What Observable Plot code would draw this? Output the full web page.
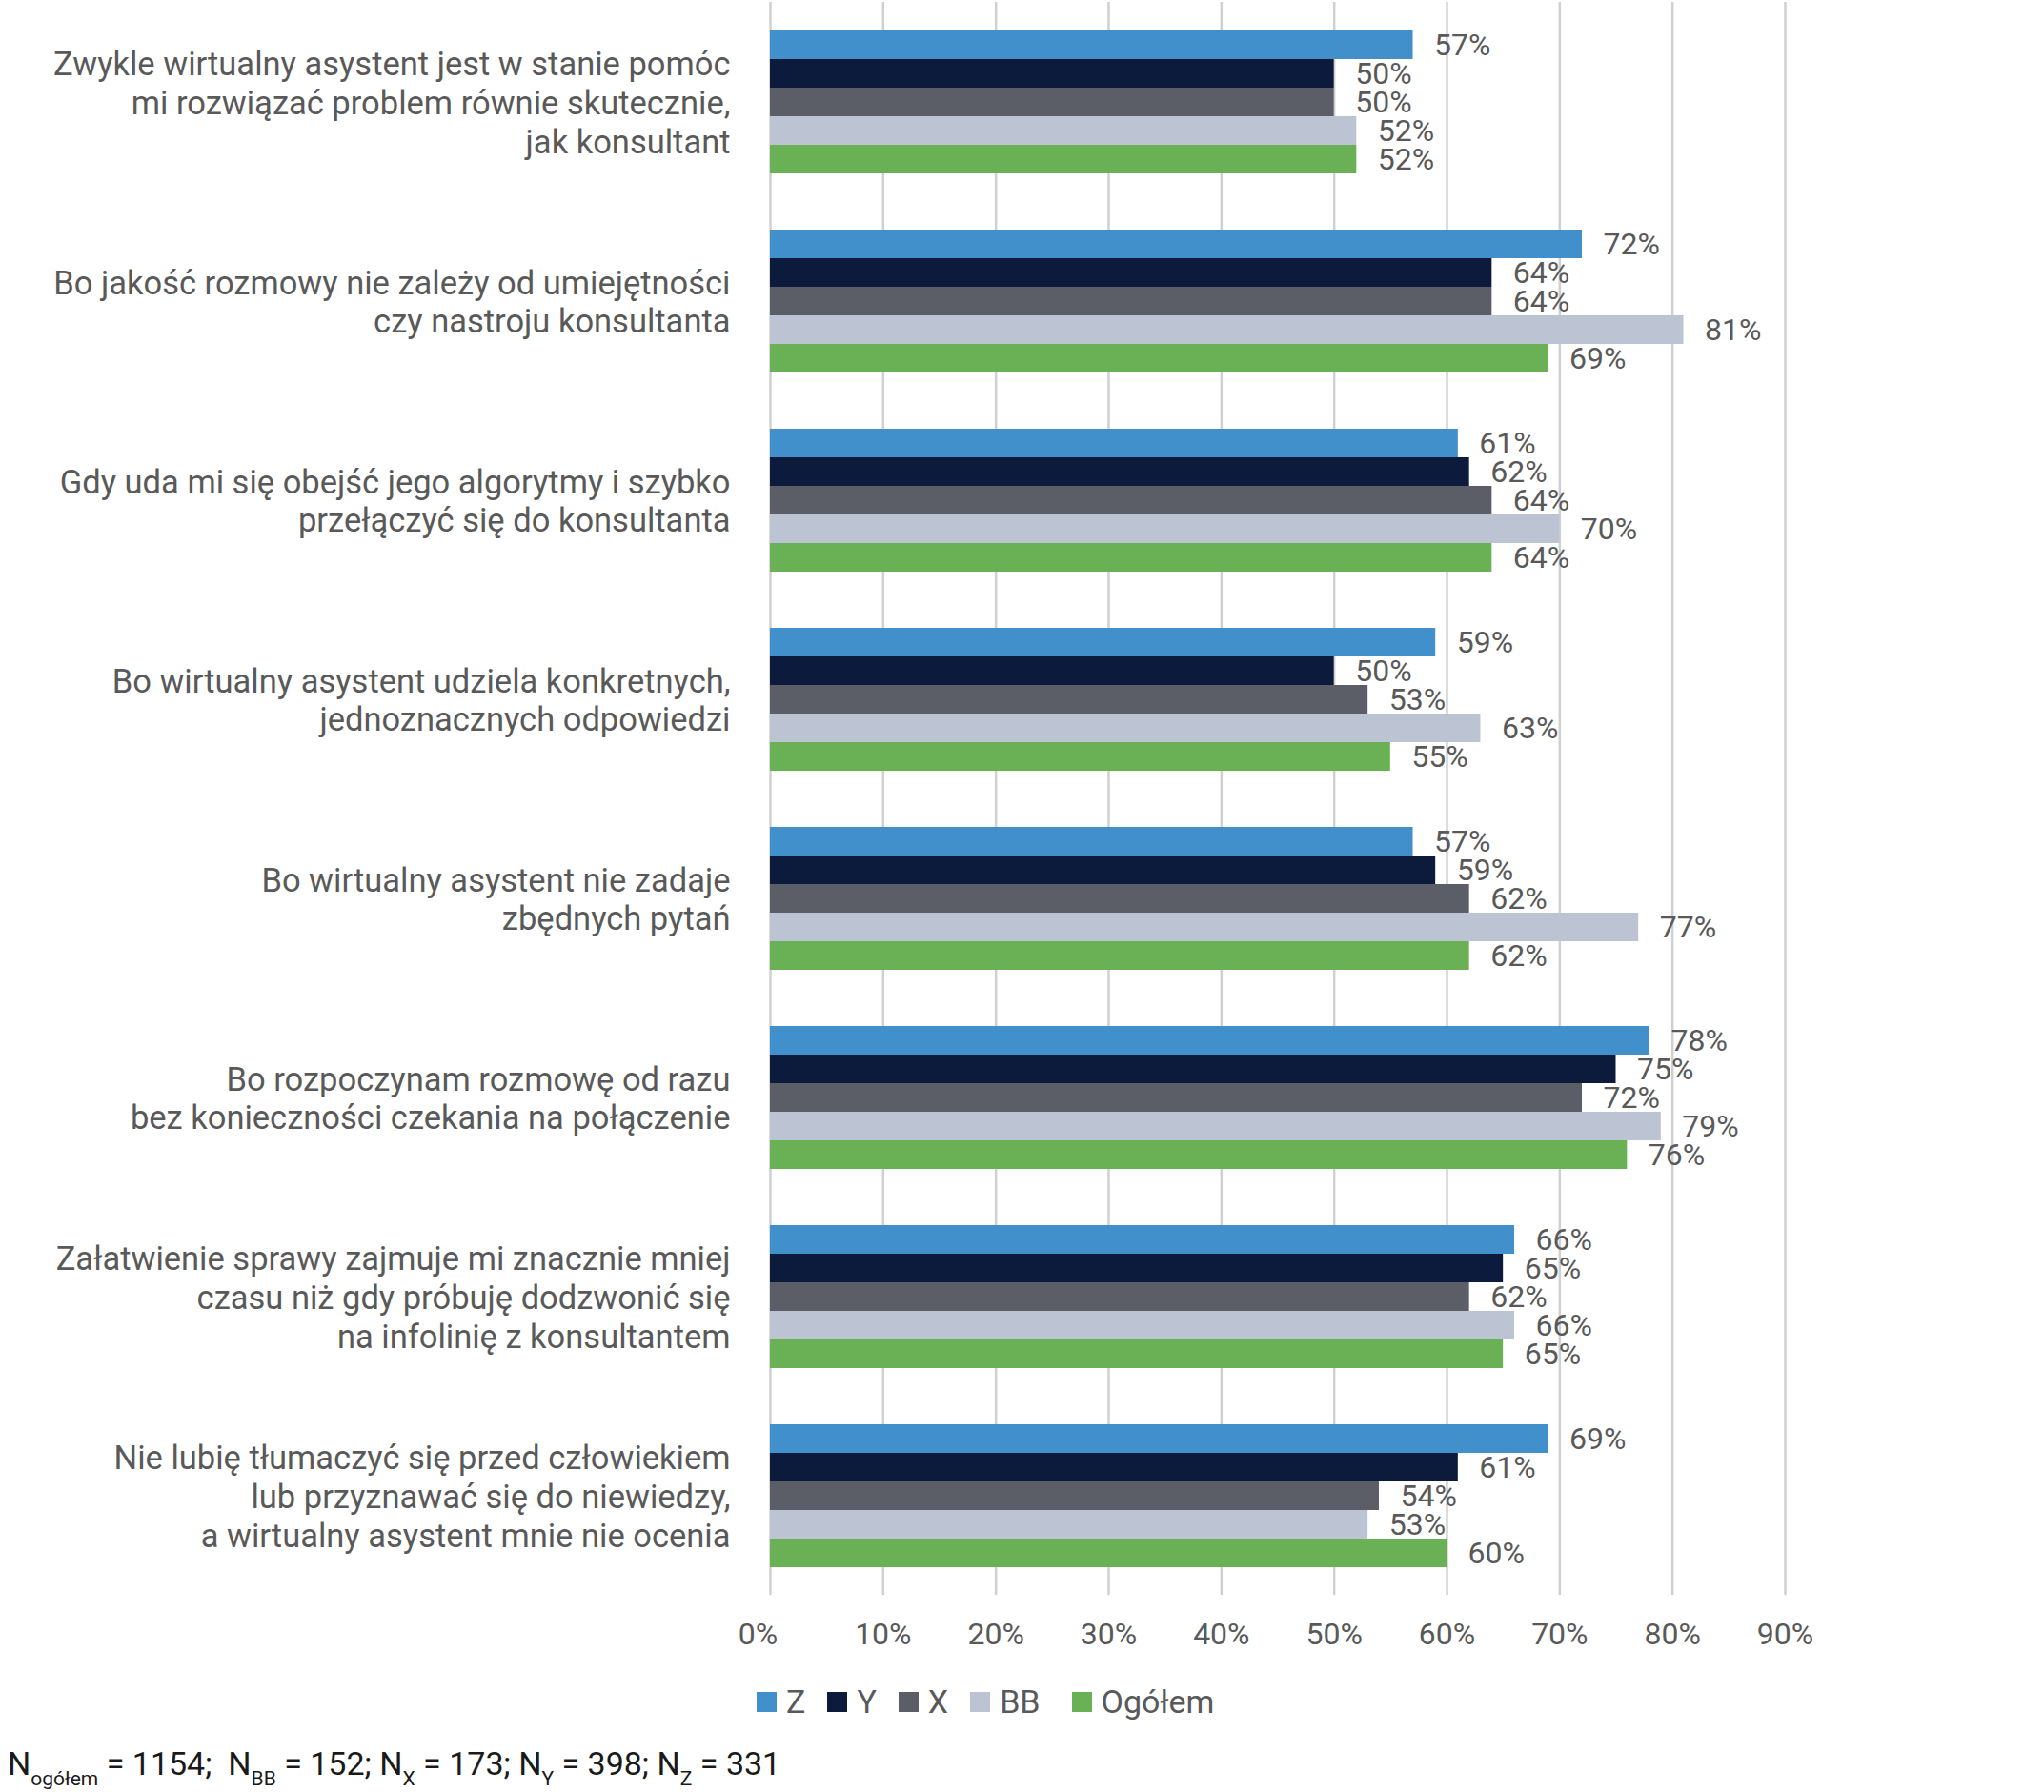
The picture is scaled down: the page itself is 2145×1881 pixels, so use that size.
<!DOCTYPE html>
<html>
<head>
<meta charset="utf-8">
<script src="https://cdn.jsdelivr.net/npm/d3@7"></script>
<script src="https://cdn.jsdelivr.net/npm/@observablehq/plot@0.6"></script>
<style>
  html, body { margin: 0; padding: 0; background: #fff; }
  body { position: relative; width: 2145px; height: 1881px; font-family: Roboto, "Noto Sans", sans-serif; }
  #chart { position: absolute; left: 0; top: 0; }
  #legend { position: absolute; left: 794px; top: 1768px; height: 36px; display: flex; align-items: center; font-size: 34px; color: #595959; }
  #legend .item { display: flex; align-items: center; margin-right: 23px; }
  #legend .item.wide { margin-right: 33px; }
  #legend .sw { width: 21px; height: 21px; margin-right: 10px; }
  #note { position: absolute; left: 8px; top: 1831px; font-size: 34px; line-height: 40px; color: #1a1a1a; white-space: pre; }
  #note .s { font-size: 21px; vertical-align: -11px; }
</style>
</head>
<body>
<div id="chart"></div>
<div id="legend"></div>
<div id="note"></div>
<script>
const questions = [
  "Zwykle wirtualny asystent jest w stanie pomóc\nmi rozwiązać problem równie skutecznie,\njak konsultant",
  "Bo jakość rozmowy nie zależy od umiejętności\nczy nastroju konsultanta",
  "Gdy uda mi się obejść jego algorytmy i szybko\nprzełączyć się do konsultanta",
  "Bo wirtualny asystent udziela konkretnych,\njednoznacznych odpowiedzi",
  "Bo wirtualny asystent nie zadaje\nzbędnych pytań",
  "Bo rozpoczynam rozmowę od razu\nbez konieczności czekania na połączenie",
  "Załatwienie sprawy zajmuje mi znacznie mniej\nczasu niż gdy próbuję dodzwonić się\nna infolinię z konsultantem",
  "Nie lubię tłumaczyć się przed człowiekiem\nlub przyznawać się do niewiedzy,\na wirtualny asystent mnie nie ocenia"
];
const series = ["Z", "Y", "X", "BB", "Ogółem"];
const colors = ["#418fcb", "#0c1a3c", "#5b5e66", "#bcc3d3", "#6ab155"];
const valuesZ      = [57, 72, 61, 59, 57, 78, 66, 69];
const valuesY      = [50, 64, 62, 50, 59, 75, 65, 61];
const valuesX      = [50, 64, 64, 53, 62, 72, 62, 54];
const valuesBB     = [52, 81, 70, 63, 77, 79, 66, 53];
const valuesOgolem = [52, 69, 64, 55, 62, 76, 65, 60];
const xTicks = [0, 10, 20, 30, 40, 50, 60, 70, 80, 90];
const noteParts = [["N", "ogółem", " = 1154;  "], ["N", "BB", " = 152; "], ["N", "X", " = 173; "], ["N", "Y", " = 398; "], ["N", "Z", " = 331"]];

const bySeries = [valuesZ, valuesY, valuesX, valuesBB, valuesOgolem];
const table = [];
questions.forEach((q, i) => {
  series.forEach((s, j) => table.push({q, s, v: bySeries[j][i]}));
});

const textColor = "#595959";
const plot = Plot.plot({
  width: 2145,
  height: 1745,
  marginTop: 1,
  marginBottom: 71,
  marginLeft: 808,
  marginRight: 272,
  style: {fontFamily: "Roboto, 'Noto Sans', sans-serif", background: "#fff"},
  x: {domain: [0, 90], axis: null},
  y: {domain: series, padding: 0, insetTop: 28.5, insetBottom: 28.5, axis: null},
  fy: {domain: questions, padding: 0, axis: null},
  color: {domain: series, range: colors},
  marks: [
    Plot.gridX(xTicks, {stroke: "#d0d0d0", strokeOpacity: 1, strokeWidth: 2.5}),
    Plot.barX(table, {x: "v", y: "s", fy: "q", fill: "s"}),
    Plot.text(table, {x: "v", y: "s", fy: "q", text: d => d.v + "%", textAnchor: "start", dx: 22, fontSize: 32, fill: textColor}),
    Plot.text(questions, {fy: d => d, text: d => d, frameAnchor: "left", textAnchor: "end", dx: -42, fontSize: 34.5, lineHeight: 1.18, fill: textColor}),
    Plot.axisX(xTicks.slice(0, 1), {label: null, tickSize: 0, tickPadding: 29, dx: -13, tickFormat: d => d + "%", fontSize: 32, fill: textColor, facetAnchor: "bottom"}),
    Plot.axisX(xTicks.slice(1), {label: null, tickSize: 0, tickPadding: 29, tickFormat: d => d + "%", fontSize: 32, fill: textColor, facetAnchor: "bottom"})
  ]
});
document.getElementById("chart").appendChild(plot);

const legend = document.getElementById("legend");
series.forEach((s, j) => {
  const it = document.createElement("div");
  it.className = "item" + (s === "BB" ? " wide" : "");
  const sw = document.createElement("div");
  sw.className = "sw";
  sw.style.background = colors[j];
  const t = document.createElement("span");
  t.textContent = s;
  it.appendChild(sw); it.appendChild(t);
  legend.appendChild(it);
});

const note = document.getElementById("note");
noteParts.forEach(([a, sub, b]) => {
  note.appendChild(document.createTextNode(a));
  const sp = document.createElement("span");
  sp.className = "s"; sp.textContent = sub;
  note.appendChild(sp);
  note.appendChild(document.createTextNode(b));
});
</script>
</body>
</html>
